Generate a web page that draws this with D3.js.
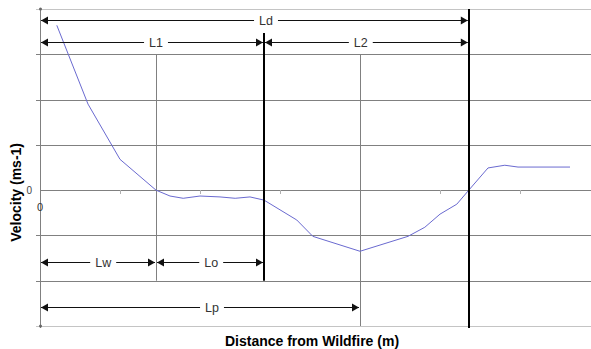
<!DOCTYPE html>
<html>
<head>
<meta charset="utf-8">
<script src="https://cdn.jsdelivr.net/npm/d3@7"></script>
<style>
  html, body { margin: 0; padding: 0; background: #fff; }
  svg { display: block; font-family: "Liberation Sans", Arial, sans-serif; }
</style>
</head>
<body>
<svg id="chart" width="591" height="349"></svg>
<script>
// Distance from the wildfire (m) and measured velocity (ms-1)
const distance = [2.1, 6, 10, 14.5, 16.25, 17.9, 20, 22.5, 24.4, 26.25, 28, 32.1, 34.1, 40, 46, 48.1, 50, 52.1, 53.6, 56, 58.1, 59.75, 66.25];
const velocity = [3.64, 1.9, 0.68, 0, -0.13, -0.18, -0.13, -0.15, -0.18, -0.15, -0.22, -0.66, -1.02, -1.35, -1.02, -0.82, -0.53, -0.31, 0, 0.49, 0.55, 0.51, 0.51];

// Horizontal grid levels and x tick positions
const yGrid = [-3, -2, -1, 0, 1, 2, 3, 4];
const xTicks = [0, 10, 20, 30, 40, 50, 60];

// Reference distances: thin guides and heavy boundaries
const thinGuides = [14.5, 40];
const heavyBounds = [28, 53.6];

// Dimension annotations
const spanNames = ["Ld", "L1", "L2", "Lw", "Lo", "Lp"];
const spanFrom  = [0, 0, 28, 0, 14.5, 0];
const spanTo    = [53.6, 28, 53.6, 14.5, 28, 40];
const spanLevel = [3.75, 3.27, 3.27, -1.59, -1.59, -2.58];
const spanLabelAt = [28.25, 14.5, 40.1, 7.9, 21.4, 21.5];

const svg = d3.select("#chart");
const x = d3.scaleLinear().domain([0, 70]).range([40, 600]);
const y = d3.scaleLinear().domain([-3, 4]).range([326, 9]);

// grid lines
svg.append("g").selectAll("line").data(yGrid).join("line")
  .attr("x1", d => (d === 0 ? x(0) : x(0) - 4))
  .attr("x2", 591)
  .attr("y1", d => Math.round(y(d)) + 0.5)
  .attr("y2", d => Math.round(y(d)) + 0.5)
  .attr("stroke", d => (d === 4 || d === -3) ? "#c4c4c4" : "#808080")
  .attr("stroke-width", 1);

// y axis line
svg.append("line")
  .attr("x1", x(0) + 0.5).attr("x2", x(0) + 0.5)
  .attr("y1", y(4)).attr("y2", y(-3) + 2)
  .attr("stroke", "#808080");

// small dots at axis ends
svg.append("g").selectAll("circle").data([4, -3]).join("circle")
  .attr("cx", x(0) + 0.5).attr("cy", d => y(d))
  .attr("r", 1.5).attr("fill", "#666");

// x ticks on the zero line
svg.append("g").selectAll("line").data(xTicks.slice(1)).join("line")
  .attr("x1", d => Math.round(x(d)) + 0.5).attr("x2", d => Math.round(x(d)) + 0.5)
  .attr("y1", Math.round(y(0))).attr("y2", Math.round(y(0)) + 4)
  .attr("stroke", "#b0b0b0");

// thin vertical guides
svg.append("g").selectAll("line").data(thinGuides).join("line")
  .attr("x1", d => Math.round(x(d)) + 0.5).attr("x2", d => Math.round(x(d)) + 0.5)
  .attr("y1", y(3))
  .attr("y2", (d, i) => i === 0 ? y(-2) : y(-3))
  .attr("stroke", "#808080");

// axis zero labels
svg.append("text").attr("x", 32).attr("y", y(0) + 4)
  .attr("text-anchor", "end").attr("font-size", 10).attr("fill", "#444").text("0");
svg.append("text").attr("x", x(0)).attr("y", y(0) + 21)
  .attr("text-anchor", "middle").attr("font-size", 11).attr("fill", "#333").text("0");

// velocity curve
const line = d3.line().x((d, i) => x(distance[i])).y(d => y(d));
svg.append("path").datum(velocity)
  .attr("d", line)
  .attr("fill", "none")
  .attr("stroke", "#6a6ad0")
  .attr("stroke-width", 1);

// heavy boundaries
svg.append("g").selectAll("line").data(heavyBounds).join("line")
  .attr("x1", d => Math.round(x(d))).attr("x2", d => Math.round(x(d)))
  .attr("y1", (d, i) => i === 0 ? y(3.27) - 9 : y(4))
  .attr("y2", (d, i) => i === 0 ? y(-2) : y(-3) + 2)
  .attr("stroke", "#000")
  .attr("stroke-width", 2);

// dimension arrows
const arrows = svg.append("g");
spanNames.forEach((name, i) => {
  const x1 = x(spanFrom[i]) + 1, x2 = x(spanTo[i]) - 1;
  const yy = Math.round(y(spanLevel[i])) + 0.5;
  const g = arrows.append("g");
  g.append("line").attr("x1", x1).attr("x2", x2).attr("y1", yy).attr("y2", yy)
    .attr("stroke", "#111").attr("stroke-width", 1.2);
  g.append("path").attr("d", `M${x1},${yy}L${x1 + 7},${yy - 4}L${x1 + 7},${yy + 4}Z`).attr("fill", "#111");
  g.append("path").attr("d", `M${x2},${yy}L${x2 - 7},${yy - 4}L${x2 - 7},${yy + 4}Z`).attr("fill", "#111");
  const t = g.append("text")
    .attr("x", x(spanLabelAt[i])).attr("y", yy + 4.5)
    .attr("text-anchor", "middle").attr("font-size", 12.5).attr("fill", "#333")
    .text(name);
  const w = t.node().getComputedTextLength();
  g.insert("rect", "text")
    .attr("x", x(spanLabelAt[i]) - w / 2 - 5).attr("y", yy - 3)
    .attr("width", w + 10).attr("height", 6).attr("fill", "#fff");
});

// axis titles
svg.append("text")
  .attr("transform", `translate(21,${y(-0.05)}) rotate(-90)`)
  .attr("text-anchor", "middle").attr("font-size", 14).attr("font-weight", "bold")
  .attr("fill", "#000").text("Velocity (ms-1)");
svg.append("text")
  .attr("x", 312).attr("y", 346)
  .attr("text-anchor", "middle").attr("font-size", 14).attr("font-weight", "bold")
  .attr("fill", "#000").text("Distance from Wildfire (m)");
</script>
</body>
</html>
